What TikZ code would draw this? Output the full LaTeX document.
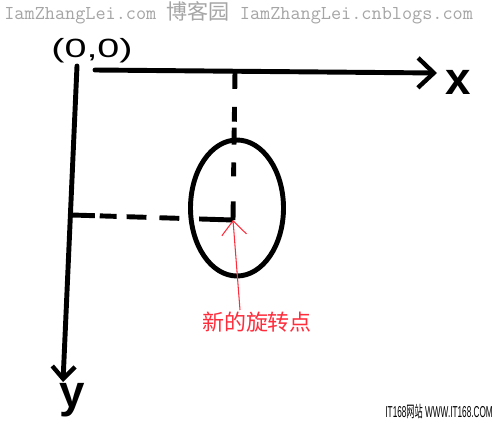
\documentclass[tikz,border=0pt]{standalone}
\usepackage{fontspec}
\setmainfont{Liberation Sans}
\newfontfamily\cjk{Noto Sans CJK SC}
\usetikzlibrary{arrows.meta, shapes.geometric}
\definecolor{wmgray}{RGB}{165,165,165}
\definecolor{penred}{RGB}{255,45,60}

\begin{document}
\begin{tikzpicture}[x=0.02cm, y=-0.02cm,
    pen/.style={line width=2.8pt, line cap=round},
    dashpen/.style={line width=2.8pt, dash pattern=#1},
    hand/.style={font=\bfseries\fontsize{#1}{#1}\selectfont, inner sep=0pt}]
    \useasboundingbox[fill=white] (0,0) rectangle (500,423);
    % watermarks
    \node[anchor=west, text=wmgray, inner sep=0pt] (wmtop) at (4,13)
        {\fontsize{11.2}{11}\ttfamily IamZhangLei.com {\cjk\fontsize{12}{11}\selectfont 博客园} IamZhangLei.cnblogs.com};
    \node[anchor=east, inner sep=0pt, xscale=0.52] (wmbot) at (493,411)
        {\fontsize{9}{9}\selectfont IT168{\cjk 网站} WWW.IT168.COM};
    % axes
    \coordinate (origin) at (77,66);
    \coordinate (xstart) at (95,70);
    \coordinate (xend) at (437,73);
    \coordinate (yend) at (63,382);
    \node[hand=14, font=\mdseries\fontsize{15}{15}\selectfont, xscale=1.5] (zero) at (92,51) {(0,0)};
    \node[hand=26] (xlabel) at (458,82) {x};
    \node[hand=26] (ylabel) at (72,400) {y};
    \draw[pen, -{Straight Barb[length=9pt, width=17pt, line width=2.5pt]}] (xstart) -- (xend);
    \draw[pen, -{Straight Barb[length=7pt, width=13pt, line width=2.5pt]}] (origin) -- (yend);
    % ellipse and the two dashed lines
    \node[draw, line width=2.8pt, ellipse, minimum width=93*0.02cm, minimum height=136*0.02cm,
        inner sep=0pt] (oval) at (237,208) {};
    \coordinate (pivot) at (233,220);
    \coordinate (xtick) at (235,72);
    \coordinate (ytick) at (72,215);
    \draw[dashpen={on 9.6pt off 10.2pt on 8.5pt off 3.4pt on 9.6pt off 10.2pt on 7.9pt off 14.2pt on 12pt off 1pt}]
        (xtick) -- (pivot);
    \draw[dashpen={on 13pt off 2.8pt on 9.6pt off 5.7pt on 11.3pt off 7.4pt on 11.3pt off 11.3pt on 20pt off 1pt}]
        (ytick) -- (pivot);
    % red note
    \node[text=penred, inner sep=0pt] (note) at (257,322)
        {\cjk\fontsize{12.5}{13}\selectfont 新的旋转点};
    \coordinate (notefoot) at (240,310);
    \draw[penred, line width=0.6pt, -{Straight Barb[length=8pt, width=14pt]}] (notefoot) -- (pivot);
\end{tikzpicture}
\end{document}
